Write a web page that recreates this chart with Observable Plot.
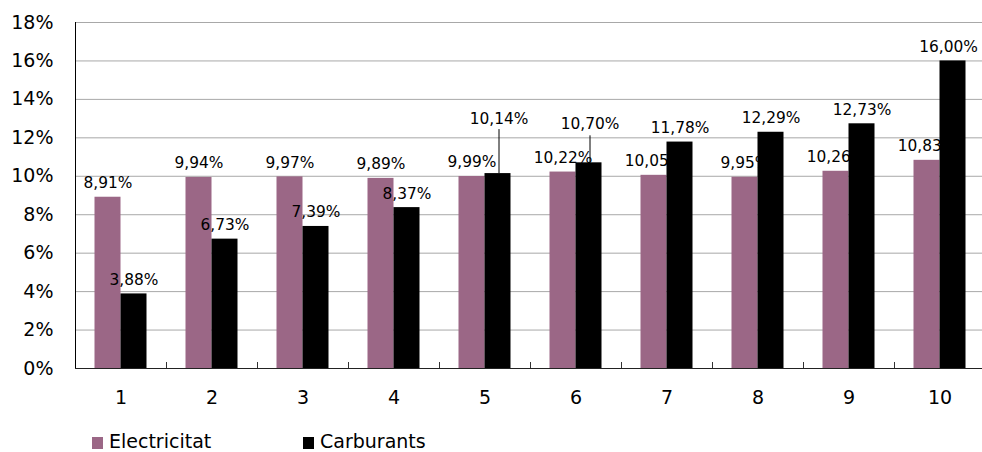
<!DOCTYPE html>
<html>
<head>
<meta charset="utf-8">
<script src="https://cdn.jsdelivr.net/npm/d3@7"></script>
<script src="https://cdn.jsdelivr.net/npm/@observablehq/plot@0.6"></script>
<style>
  html, body { margin: 0; padding: 0; background: #fff; width: 982px; height: 452px; overflow: hidden; }
  #wrap { position: relative; width: 982px; height: 452px; }
  #chart svg { display: block; }
  .leg { position: absolute; font-family: "DejaVu Sans", sans-serif; font-size: 19px; color: #000; line-height: 20px; white-space: nowrap; }
  .sw { position: absolute; width: 11px; height: 12px; }
</style>
</head>
<body>
<div id="wrap">
  <div id="chart"></div>
  <div class="sw" style="left:92px; top:437px; background:#9b6786;"></div>
  <div class="leg" style="left:109px; top:431px;">Electricitat</div>
  <div class="sw" style="left:303px; top:437px; background:#000;"></div>
  <div class="leg" style="left:320px; top:431px;">Carburants</div>
</div>
<script>
// ---- data ----
const categories = ["1", "2", "3", "4", "5", "6", "7", "8", "9", "10"];
const electricitat = [8.91, 9.94, 9.97, 9.89, 9.99, 10.22, 10.05, 9.95, 10.26, 10.83];
const carburants = [3.88, 6.73, 7.39, 8.37, 10.14, 10.70, 11.78, 12.29, 12.73, 16.00];
const yTicks = [0, 2, 4, 6, 8, 10, 12, 14, 16, 18];
const seriesNames = ["Electricitat", "Carburants"];

// ---- layout ----
const W = 982, H = 414, mL = 75, mT = 22, mB = 46;
const plotH = H - mT - mB;
const pxPerUnit = plotH / 18;
const purple = "#9b6786";
const fmt = v => v.toFixed(2).replace(".", ",") + "%";

const rows = categories.map((c, i) => ({cat: c, e: electricitat[i], k: carburants[i], i}));
const lastCat = categories[categories.length - 1];
// labels moved by hand in the original (with leader lines)
const leaderLift = {"5": 55, "6": 39};     // label offset above bar top (px)
const leaderLen = {"5": 44, "6": 27};      // leader line length (px)
const normalC = rows.filter(d => !(d.cat in leaderLift) && d.cat !== lastCat);
const lastC = rows.filter(d => d.cat === lastCat);
const leaderC = rows.filter(d => d.cat in leaderLift);
const tickLen = 6 / pxPerUnit;

const chart = Plot.plot({
  width: W, height: H,
  marginLeft: mL, marginRight: 0, marginTop: mT, marginBottom: mB,
  style: {fontFamily: "DejaVu Sans, sans-serif", fontSize: "19px", color: "#000", background: "#fff", overflow: "visible"},
  x: {type: "band", domain: categories, range: [75, 985], padding: 0, label: null, tickSize: 0, tickPadding: 22},
  y: {domain: [0, 18], ticks: yTicks, tickFormat: d => d + "%", label: null, tickSize: 0, tickPadding: 22},
  marks: [
    Plot.ruleY(yTicks.filter(d => d > 0), {stroke: "#a8a8a8", strokeWidth: 1}),
    Plot.barY(rows, {x: "cat", y: "e", fill: purple, insetLeft: 19.5, insetRight: 45.5}),
    Plot.text(rows, {x: "cat", y: "e", text: d => fmt(d.e), dx: -13, dy: -14, fontSize: 15.4, fill: "#000"}),
    Plot.barY(rows, {x: "cat", y: "k", fill: "#000", insetLeft: 45.5, insetRight: 19.5}),
    Plot.text(normalC, {x: "cat", y: "k", text: d => fmt(d.k), dx: 13, dy: -14, fontSize: 15.4, fill: "#000"}),
    Plot.text(lastC, {x: "cat", y: "k", text: d => fmt(d.k), dx: 8.5, dy: -14, fontSize: 15.4, fill: "#000"}),
    Plot.ruleX(leaderC, {x: "cat", y1: "k", y2: d => d.k + leaderLen[d.cat] / pxPerUnit, dx: 14, stroke: "#000", strokeWidth: 1}),
    Plot.text(leaderC, {x: "cat", y: d => d.k + leaderLift[d.cat] / pxPerUnit, text: d => fmt(d.k), dx: 14, fontSize: 15.4, fill: "#000"}),
    // axes lines and inner ticks
    Plot.ruleY([0], {stroke: "#222", strokeWidth: 1}),
    Plot.ruleX([categories[0]], {x: d => d, y1: 0, y2: 18, dx: -45.5, stroke: "#000", strokeWidth: 1}),
    Plot.ruleX(categories.slice(1), {x: d => d, y1: 0, y2: tickLen, dx: -45.5, stroke: "#333", strokeWidth: 1})
  ]
});
document.getElementById("chart").appendChild(chart);
</script>
</body>
</html>
